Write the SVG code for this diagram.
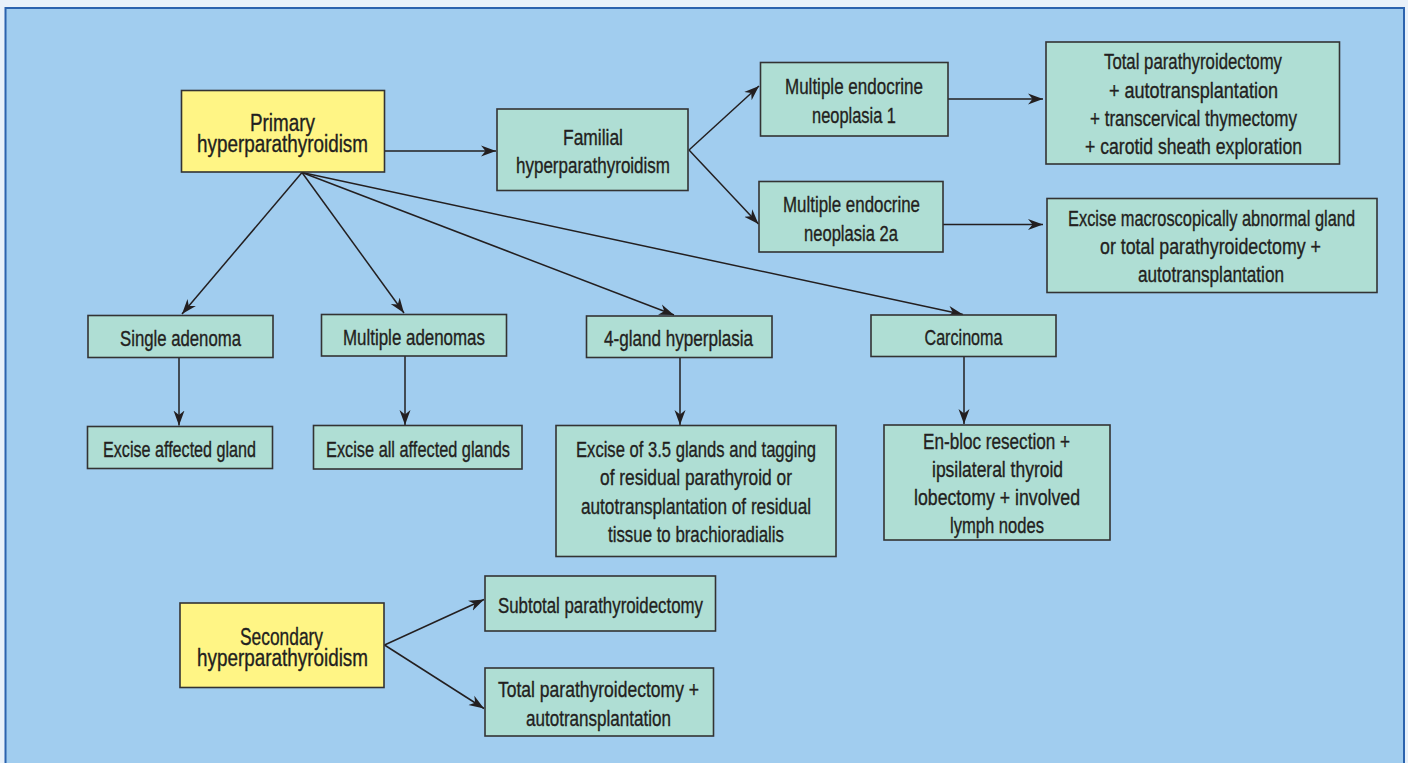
<svg xmlns="http://www.w3.org/2000/svg" width="1408" height="763" viewBox="0 0 1408 763">
<defs>
<style>
.bx{fill:#AFDED4;stroke:#333333;stroke-width:1.6}
.yb{fill:#FFF585;stroke:#333333;stroke-width:1.6}
.t{font-family:"Liberation Sans Narrow","Liberation Sans",Arial,sans-serif;font-size:22px;fill:#231F20;stroke:#231F20;stroke-width:0.35}
.tb{font-family:"Liberation Sans Narrow","Liberation Sans",Arial,sans-serif;font-size:23px;fill:#231F20;stroke:#231F20;stroke-width:0.35}
.c{stroke:#231F20;stroke-width:1.5;fill:none;marker-end:url(#ah)}
</style>
<marker id="ah" viewBox="-15 -6 16 12" refX="0" refY="0" markerWidth="16" markerHeight="12" markerUnits="userSpaceOnUse" orient="auto">
<path d="M0,0 L-15,-5.5 L-10.5,0 L-15,5.5 Z" fill="#231F20"/>
</marker>
</defs>
<rect x="0" y="0" width="1408" height="763" fill="#E8F1FA"/>
<rect x="5.5" y="8" width="1398.5" height="800" fill="#A1CDEF" stroke="#2B63AE" stroke-width="2"/>

<g id="connectors">
<line class="c" x1="385" y1="151" x2="496" y2="151"/>
<line class="c" x1="302" y1="172.5" x2="182" y2="314"/>
<line class="c" x1="302" y1="172.5" x2="404" y2="313"/>
<line class="c" x1="302" y1="172.5" x2="674" y2="315"/>
<line class="c" x1="302" y1="172.5" x2="963" y2="314.5"/>
<line class="c" x1="689" y1="150" x2="759" y2="86"/>
<line class="c" x1="689" y1="150" x2="758.5" y2="224"/>
<line class="c" x1="948" y1="99" x2="1043" y2="99"/>
<line class="c" x1="943" y1="224.5" x2="1043" y2="224.5"/>
<line class="c" x1="179" y1="357.5" x2="179" y2="425.5"/>
<line class="c" x1="405" y1="356" x2="405" y2="425"/>
<line class="c" x1="680" y1="357.5" x2="680" y2="425"/>
<line class="c" x1="964" y1="356.5" x2="964" y2="424"/>
<line class="c" x1="384.5" y1="645" x2="484" y2="599.5"/>
<line class="c" x1="384.5" y1="645" x2="484" y2="708.5"/>
</g>

<g id="primary">
<rect class="yb" x="181.5" y="90.5" width="203" height="81.5"/>
<text class="tb" x="250" y="130.5" textLength="65" lengthAdjust="spacingAndGlyphs">Primary</text>
<text class="tb" x="197" y="152" textLength="171" lengthAdjust="spacingAndGlyphs">hyperparathyroidism</text>
</g>
<g id="familial">
<rect class="bx" x="497" y="109" width="191" height="81.5"/>
<text class="t" x="563" y="145" textLength="60" lengthAdjust="spacingAndGlyphs">Familial</text>
<text class="t" x="516" y="173" textLength="154" lengthAdjust="spacingAndGlyphs">hyperparathyroidism</text>
</g>
<g id="men1">
<rect class="bx" x="760.5" y="62.5" width="187.5" height="73.5"/>
<text class="t" x="785" y="94" textLength="138" lengthAdjust="spacingAndGlyphs">Multiple endocrine</text>
<text class="t" x="812" y="122.5" textLength="84" lengthAdjust="spacingAndGlyphs">neoplasia 1</text>
</g>
<g id="men2a">
<rect class="bx" x="759" y="181.5" width="184" height="70.5"/>
<text class="t" x="783" y="212" textLength="137" lengthAdjust="spacingAndGlyphs">Multiple endocrine</text>
<text class="t" x="804" y="241" textLength="94" lengthAdjust="spacingAndGlyphs">neoplasia 2a</text>
</g>
<g id="men1-treatment">
<rect class="bx" x="1046" y="42" width="293.5" height="122"/>
<text class="t" x="1104" y="69" textLength="178" lengthAdjust="spacingAndGlyphs">Total parathyroidectomy</text>
<text class="t" x="1109" y="98" textLength="169" lengthAdjust="spacingAndGlyphs">+ autotransplantation</text>
<text class="t" x="1090" y="126" textLength="207" lengthAdjust="spacingAndGlyphs">+ transcervical thymectomy</text>
<text class="t" x="1085" y="154" textLength="217" lengthAdjust="spacingAndGlyphs">+ carotid sheath exploration</text>
</g>
<g id="men2a-treatment">
<rect class="bx" x="1047" y="198.5" width="330" height="94"/>
<text class="t" x="1068" y="226" textLength="287" lengthAdjust="spacingAndGlyphs">Excise macroscopically abnormal gland</text>
<text class="t" x="1100" y="254" textLength="221" lengthAdjust="spacingAndGlyphs">or total parathyroidectomy +</text>
<text class="t" x="1138" y="282" textLength="146" lengthAdjust="spacingAndGlyphs">autotransplantation</text>
</g>
<g id="single-adenoma">
<rect class="bx" x="88" y="315.5" width="185" height="42"/>
<text class="t" x="120" y="345.5" textLength="121" lengthAdjust="spacingAndGlyphs">Single adenoma</text>
</g>
<g id="excise-affected">
<rect class="bx" x="87.5" y="426.5" width="185" height="42"/>
<text class="t" x="103" y="457" textLength="153" lengthAdjust="spacingAndGlyphs">Excise affected gland</text>
</g>
<g id="multiple-adenomas">
<rect class="bx" x="321.5" y="314.5" width="185" height="41.5"/>
<text class="t" x="343" y="345" textLength="142" lengthAdjust="spacingAndGlyphs">Multiple adenomas</text>
</g>
<g id="excise-all">
<rect class="bx" x="313.5" y="425.5" width="208.5" height="43.5"/>
<text class="t" x="326" y="457" textLength="184" lengthAdjust="spacingAndGlyphs">Excise all affected glands</text>
</g>
<g id="four-gland">
<rect class="bx" x="586.5" y="316" width="185.5" height="41.5"/>
<text class="t" x="604" y="345.5" textLength="149" lengthAdjust="spacingAndGlyphs">4-gland hyperplasia</text>
</g>
<g id="carcinoma">
<rect class="bx" x="871" y="315" width="185" height="41.5"/>
<text class="t" x="924.5" y="345" textLength="78" lengthAdjust="spacingAndGlyphs">Carcinoma</text>
</g>
<g id="excise-3-5">
<rect class="bx" x="556" y="425.5" width="280" height="131"/>
<text class="t" x="576" y="457" textLength="240" lengthAdjust="spacingAndGlyphs">Excise of 3.5 glands and tagging</text>
<text class="t" x="600" y="485" textLength="192" lengthAdjust="spacingAndGlyphs">of residual parathyroid or</text>
<text class="t" x="581" y="514" textLength="230" lengthAdjust="spacingAndGlyphs">autotransplantation of residual</text>
<text class="t" x="608" y="542" textLength="176" lengthAdjust="spacingAndGlyphs">tissue to brachioradialis</text>
</g>
<g id="en-bloc">
<rect class="bx" x="884" y="425" width="226" height="115"/>
<text class="t" x="923" y="449" textLength="147" lengthAdjust="spacingAndGlyphs">En-bloc resection +</text>
<text class="t" x="932" y="477" textLength="131" lengthAdjust="spacingAndGlyphs">ipsilateral thyroid</text>
<text class="t" x="914" y="505" textLength="166" lengthAdjust="spacingAndGlyphs">lobectomy + involved</text>
<text class="t" x="950" y="533" textLength="94" lengthAdjust="spacingAndGlyphs">lymph nodes</text>
</g>
<g id="secondary">
<rect class="yb" x="180" y="603" width="204" height="84.5"/>
<text class="tb" x="240" y="644.5" textLength="83" lengthAdjust="spacingAndGlyphs">Secondary</text>
<text class="tb" x="197" y="666" textLength="171" lengthAdjust="spacingAndGlyphs">hyperparathyroidism</text>
</g>
<g id="subtotal">
<rect class="bx" x="485" y="576" width="230.5" height="55"/>
<text class="t" x="498" y="613" textLength="205" lengthAdjust="spacingAndGlyphs">Subtotal parathyroidectomy</text>
</g>
<g id="total-auto">
<rect class="bx" x="485" y="668" width="228.5" height="68"/>
<text class="t" x="498" y="697" textLength="201" lengthAdjust="spacingAndGlyphs">Total parathyroidectomy +</text>
<text class="t" x="526" y="726" textLength="145" lengthAdjust="spacingAndGlyphs">autotransplantation</text>
</g>
</svg>
